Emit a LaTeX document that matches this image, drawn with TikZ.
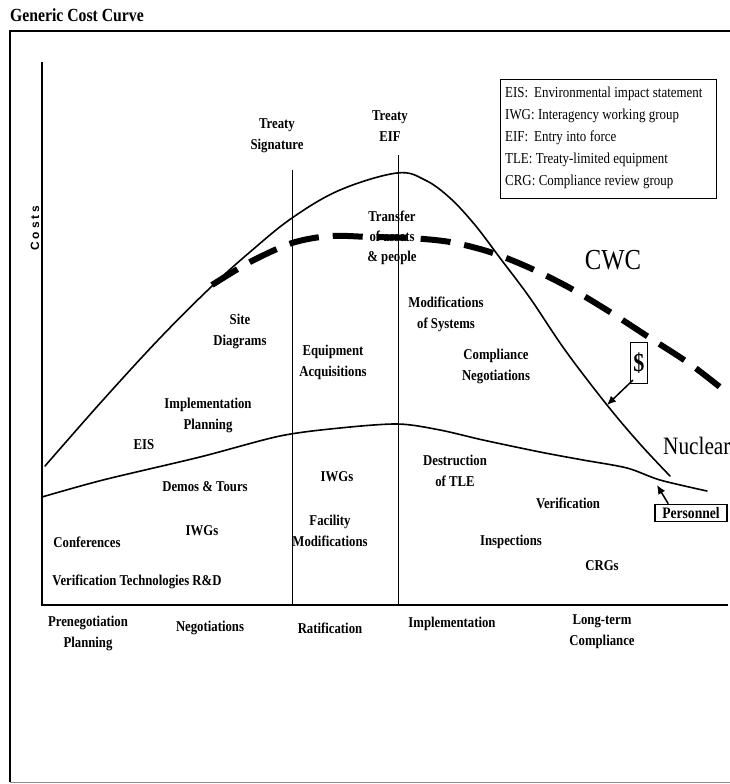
\documentclass[tikz,border=0pt]{standalone}
\usepackage{fontspec}
\setmainfont{Liberation Serif}[FakeStretch=0.85]
\newfontfamily\costfont{Liberation Sans}[LetterSpace=25]
\newcommand\legspacing{\spaceskip=3.4pt plus 1pt minus 1pt\relax}
\usetikzlibrary{arrows.meta}
\begin{document}
\begin{tikzpicture}[x=1pt,y=-1pt,
  lbl/.style={font=\bfseries\fontsize{15}{21}\selectfont, align=center, inner sep=0pt},
  axisline/.style={line width=1.6pt},
  curve/.style={line width=1.6pt, line cap=round, line join=round},
  pointer/.style={line width=1.5pt, -{Latex[length=9pt,width=8pt]}}]
\useasboundingbox (0,0) rectangle (730,784);
\fill[white] (0,0) rectangle (730,784);
% frame
\draw[line width=1.8pt] (10,782) -- (10,31) -- (730,31);
\draw[line width=0.6pt, black!45] (10,782) -- (730,782);
\node[font=\bfseries\fontsize{18.5}{20}\selectfont, anchor=west, inner sep=0pt] (title) at (10,15) {Generic Cost Curve};
% axes
\coordinate (ytop) at (42,62);
\coordinate (origin) at (42,605);
\coordinate (xend) at (728,605);
\draw[axisline] (ytop) -- (origin) -- (xend);
\node[rotate=90, font=\costfont\bfseries\fontsize{12}{12}\selectfont, inner sep=0pt] (costs) at (35,228) {Costs};
% milestone lines
\coordinate (sigtop) at (292,170);
\coordinate (sigbot) at (292,605);
\coordinate (eiftop) at (398,155);
\coordinate (eifbot) at (398,605);
\draw[line width=1pt] (sigtop) -- (sigbot);
\draw[line width=1pt] (eiftop) -- (eifbot);
% upper (CWC) solid curve
\draw[curve] plot[smooth, tension=0.6] coordinates {(45,466) (103,400) (160,338) (210,288) (250,252) (292,218) (340,190) (397,173) (425,180) (450,198) (475,225) (500,258) (530,298) (565,350) (607,405) (640,444) (670,476)};
% dashed CWC curve
\draw[line width=6pt, dash pattern=on 30pt off 14pt] plot[smooth, tension=0.5] coordinates {(212,285) (250,262) (292,243) (330,236) (370,237) (410,238) (450,242) (490,252) (530,268) (570,288) (610,312) (650,338) (690,364) (730,395)};
% lower (Nuclear) curve
\draw[curve] plot[smooth, tension=0.5] coordinates {(42,497) (103,480) (200,457) (280,436) (340,428) (398,424) (440,430) (483,440) (540,452) (583,460) (627,468) (660,480) (707,491)};
% legend
\node[draw, line width=1.3pt, anchor=north west, minimum width=216pt, minimum height=119pt, inner sep=0pt] (legendbox) at (500,79) {};
\node[anchor=north west, align=left, inner sep=0pt, font=\fontsize{15.2}{22}\selectfont\legspacing] (legend) at (505,87)
 {EIS:\hspace{6pt}Environmental impact statement\\IWG: Interagency working group\\EIF:\hspace{6pt}Entry into force\\TLE: Treaty-limited equipment\\CRG: Compliance review group};
% milestone labels
\node[lbl] (sign) at (277,136) {Treaty\\Signature};
\node[lbl] (eif) at (390,126) {Treaty\\EIF};
\node[lbl, font=\bfseries\fontsize{15}{20}\selectfont] (transfer) at (392,238) {Transfer\\of assets\\\& people};
% activity labels
\node[lbl] (site) at (240,331) {Site\\Diagrams};
\node[lbl] (equip) at (333,362) {Equipment\\Acquisitions};
\node[lbl] (modsys) at (446,314) {Modifications\\of Systems};
\node[lbl] (compneg) at (496,366) {Compliance\\Negotiations};
\node[lbl] (implan) at (208,415) {Implementation\\Planning};
\node[lbl] (eis) at (144,445) {EIS};
\node[lbl] (demos) at (205,487) {Demos \& Tours};
\node[lbl] (iwg1) at (337,477) {IWGs};
\node[lbl] (destr) at (455,471) {Destruction\\of TLE};
\node[lbl] (verif) at (568,503) {Verification};
\node[lbl] (iwg2) at (202,531) {IWGs};
\node[lbl] (facil) at (330,531) {Facility\\Modifications};
\node[lbl] (conf) at (87,542) {Conferences};
\node[lbl] (insp) at (511,542) {Inspections};
\node[lbl] (crgs) at (602,566) {CRGs};
\node[lbl] (vtech) at (137,582) {Verification Technologies R\&D};
% phase labels
\node[lbl] (preneg) at (88,633) {Prenegotiation\\Planning};
\node[lbl] (neg) at (210,628) {Negotiations};
\node[lbl] (ratif) at (330,628) {Ratification};
\node[lbl] (impl) at (452,624) {Implementation};
\node[lbl] (longterm) at (602,632) {Long-term\\Compliance};
% curve names
\node[font=\fontsize{29}{30}\selectfont, inner sep=0pt] (cwc) at (613,260) {CWC};
\node[font=\fontsize{25}{26}\selectfont, anchor=west, inner sep=0pt] (nuclear) at (663,446) {Nuclear};
% dollar pointer
\node[draw, line width=1.2pt, minimum width=17pt, minimum height=41pt, inner sep=0pt, font=\bfseries\fontsize{26}{26}\selectfont] (dollar) at (639,363) {\$};
\coordinate (dtip) at (607,405);
\path (dollar.south west) ++(3,-4) coordinate (dstart);
\draw[pointer] (dstart) -- (dtip);
% personnel pointer
\node[draw, line width=1.6pt, minimum width=72pt, minimum height=17pt, inner sep=0pt, font=\bfseries\fontsize{16}{16}\selectfont] (pers) at (691,513) {Personnel};
\coordinate (ptip) at (657,485);
\path (pers.north west) ++(14,0) coordinate (pstart);
\draw[pointer] (pstart) -- (ptip);
\end{tikzpicture}
\end{document}
